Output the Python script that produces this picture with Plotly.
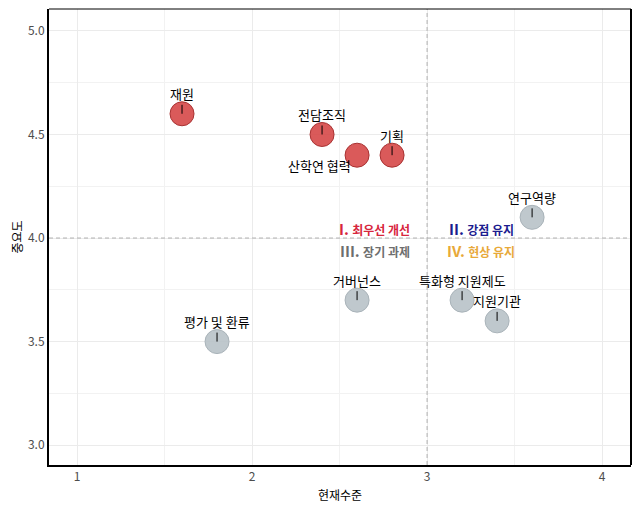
import plotly.graph_objects as go

# 정책 영역별 현재수준 / 중요도
items = ["재원", "전담조직", "산학연 협력", "기획", "연구역량",
         "거버넌스", "특화형 지원제도", "지원기관", "평가 및 환류"]
current = [1.6, 2.4, 2.6, 2.8, 3.6, 2.6, 3.2, 3.4, 1.8]
importance = [4.6, 4.5, 4.4, 4.4, 4.1, 3.7, 3.7, 3.6, 3.5]
priority = [True, True, True, True, False, False, False, False, False]

x_mid = 3.0
y_mid = 4.0

fill = ["rgba(214,72,72,0.9)" if p else "rgba(184,194,200,0.9)" for p in priority]
edge = ["#a83232" if p else "#a9b3b9" for p in priority]

fig = go.Figure()
fig.add_trace(go.Scatter(
    x=current, y=importance, mode="markers",
    marker=dict(size=24, color=fill, line=dict(color=edge, width=1)),
    hovertext=items, hoverinfo="text", showlegend=False,
))

# point labels (repel-style, segment to point centre)
label_font = dict(family="Noto Sans CJK KR", size=13, color="black")
for name, cx, cy in zip(items, current, importance):
    if name == "산학연 협력":
        fig.add_annotation(x=cx, y=cy, text=name, showarrow=False,
                           xshift=-38, yshift=-10, font=label_font)
    else:
        fig.add_annotation(x=cx, y=cy, text=name, showarrow=True,
                           arrowhead=0, arrowwidth=1, arrowcolor="black",
                           ax=0, ay=-20, standoff=0, font=label_font)

# quadrant labels
quad_text = ["I.", "II.", "III.", "IV."]
quad_name = ["최우선 개선", "강점 유지", "장기 과제", "현상 유지"]
quad_x = [2.7, 3.31, 2.7, 3.31]
quad_y = [4.045, 4.045, 3.94, 3.94]
quad_color = ["#d7263d", "#1c1c8f", "#6e6e6e", "#e8a93a"]
for t, n, qx, qy, c in zip(quad_text, quad_name, quad_x, quad_y, quad_color):
    fig.add_annotation(
        x=qx, y=qy, showarrow=False, borderpad=0,
        text="<b>" + t + "</b> <b><span style='font-size:12px'>" + n + "</span></b>",
        font=dict(family="Noto Sans CJK KR", size=15, color=c),
    )

# reference lines
fig.add_shape(type="line", x0=x_mid, x1=x_mid, y0=0, y1=1, yref="paper",
              line=dict(color="#b0b0b0", width=1, dash="4px,3px"))
fig.add_shape(type="line", x0=0, x1=1, xref="paper", y0=y_mid, y1=y_mid,
              line=dict(color="#b0b0b0", width=1, dash="4px,3px"))
# frame: thin top, thick right
fig.add_shape(type="line", x0=0, x1=1, xref="paper", y0=1, y1=1, yref="paper",
              line=dict(color="black", width=1))
fig.add_shape(type="line", x0=1, x1=1, xref="paper", y0=0, y1=1, yref="paper",
              line=dict(color="black", width=2))

fig.update_xaxes(
    range=[0.84, 4.165], tickvals=[1, 2, 3, 4], ticks="",
    showgrid=True, gridcolor="#ebebeb", gridwidth=1,
    minor=dict(tickvals=[1.5, 2.5, 3.5], showgrid=True, gridcolor="#f2f2f2"),
    showline=True, linecolor="black", linewidth=2, zeroline=False,
    title=dict(text="현재수준", font=dict(size=12, color="black"), standoff=8),
    tickfont=dict(size=12, color="#4d4d4d"), automargin=False,
)
fig.update_yaxes(
    range=[2.904, 5.106], tickvals=[3.0, 3.5, 4.0, 4.5, 5.0], tickformat=".1f",
    ticks="", showgrid=True, gridcolor="#ebebeb", gridwidth=1,
    minor=dict(tickvals=[3.25, 3.75, 4.25, 4.75], showgrid=True, gridcolor="#f2f2f2"),
    showline=True, linecolor="black", linewidth=2, zeroline=False,
    title=dict(text="중요도", font=dict(size=12, color="black"), standoff=6),
    tickfont=dict(size=12, color="#4d4d4d"), automargin=False,
)
fig.update_layout(
    width=632, height=502,
    margin=dict(l=41, r=9, t=1, b=45),
    plot_bgcolor="white", paper_bgcolor="white",
    font=dict(family="Noto Sans CJK KR"),
)
fig.write_html("out.html")
